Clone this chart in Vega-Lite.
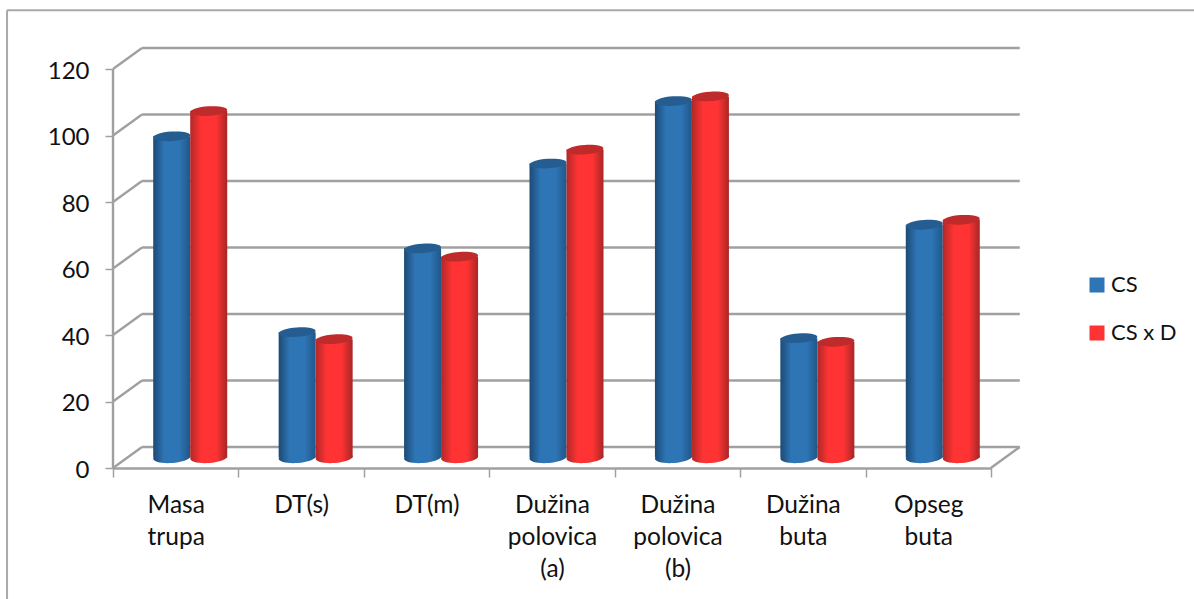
{
"$schema":"https://vega.github.io/schema/vega-lite/v6.json",
"width":908,"height":422,
"autosize":{"type":"none"},
"padding":{"left":113,"top":46,"right":173,"bottom":131},
"background":"white",
"datasets":{
"bars":[
{"kategorija":"Masa trupa","serija":"CS","vrijednost":96.6},
{"kategorija":"Masa trupa","serija":"CS x D","vrijednost":104.2},
{"kategorija":"DT(s)","serija":"CS","vrijednost":37.7},
{"kategorija":"DT(s)","serija":"CS x D","vrijednost":35.6},
{"kategorija":"DT(m)","serija":"CS","vrijednost":62.9},
{"kategorija":"DT(m)","serija":"CS x D","vrijednost":60.4},
{"kategorija":"Dužina polovica (a)","serija":"CS","vrijednost":88.4},
{"kategorija":"Dužina polovica (a)","serija":"CS x D","vrijednost":92.6},
{"kategorija":"Dužina polovica (b)","serija":"CS","vrijednost":107.2},
{"kategorija":"Dužina polovica (b)","serija":"CS x D","vrijednost":108.6},
{"kategorija":"Dužina buta","serija":"CS","vrijednost":35.9},
{"kategorija":"Dužina buta","serija":"CS x D","vrijednost":34.8},
{"kategorija":"Opseg buta","serija":"CS","vrijednost":70},
{"kategorija":"Opseg buta","serija":"CS x D","vrijednost":71.5}
],
"walls":[
{"a":0,"b":0,"a2":0,"b2":120},
{"a":0,"b":0,"a2":0.2313,"b2":6.316},
{"a":0,"b":20,"a2":0.2313,"b2":26.316},
{"a":0,"b":40,"a2":0.2313,"b2":46.316},
{"a":0,"b":60,"a2":0.2313,"b2":66.316},
{"a":0,"b":80,"a2":0.2313,"b2":86.316},
{"a":0,"b":100,"a2":0.2313,"b2":106.316},
{"a":0,"b":120,"a2":0.2313,"b2":126.316},
{"a":7,"b":0,"a2":7.2313,"b2":6.316},
{"a":0.2313,"b":6.316,"a2":7.2313,"b2":6.316},
{"a":0.2313,"b":26.316,"a2":7.2313,"b2":26.316},
{"a":0.2313,"b":46.316,"a2":7.2313,"b2":46.316},
{"a":0.2313,"b":66.316,"a2":7.2313,"b2":66.316},
{"a":0.2313,"b":86.316,"a2":7.2313,"b2":86.316},
{"a":0.2313,"b":106.316,"a2":7.2313,"b2":106.316},
{"a":0.2313,"b":126.316,"a2":7.2313,"b2":126.316}
],
"frame":[
{"a":-0.845,"b":137.7,"a2":8.63,"b2":137.7},
{"a":-0.845,"b":137.7,"a2":-0.845,"b2":-39.5}
]
},
"layer":[
{"data":{"name":"frame"},
"mark":{"type":"rule","stroke":"#a9a9a9","strokeWidth":2,"clip":false},
"encoding":{
"x":{"field":"a","type":"quantitative","scale":{"domain":[0,7.241],"nice":false,"zero":false,"clamp":false},"axis":null},
"x2":{"field":"a2"},
"y":{"field":"b","type":"quantitative","title":null,"scale":{"domain":[0,126.92],"nice":false,"zero":false},
"axis":{"values":[0,20,40,60,80,100,120],"labelFont":"Lato","labelFontSize":24,"labelColor":"#111111","labelPadding":16,"labelOffset":2,"tickSize":8,"tickColor":"#a0a0a0","tickWidth":1.5,"domain":false,"grid":false}},
"y2":{"field":"b2"}}},
{"data":{"name":"walls"},
"mark":{"type":"rule","stroke":"#a0a0a0","strokeWidth":2.4},
"encoding":{
"x":{"field":"a","type":"quantitative","scale":{"domain":[0,7.241],"nice":false,"zero":false},"axis":null},
"x2":{"field":"a2"},
"y":{"field":"b","type":"quantitative","scale":{"domain":[0,126.92],"nice":false,"zero":false}},
"y2":{"field":"b2"}}},
{"data":{"name":"bars"},
"mark":{"type":"rule","opacity":0},
"encoding":{
"x":{"field":"kategorija","type":"nominal","sort":null,"title":null,
"scale":{"range":[0,878],"paddingInner":0,"paddingOuter":0},
"axis":{"labelAngle":0,"labelExpr":"split(datum.label,' ')","labelFont":"Lato","labelFontSize":24.5,"labelLineHeight":32,"labelColor":"#111111","labelLimit":300,"labelPadding":16,"labelOverlap":false,"labelBaseline":"top","tickBand":"extent","tickSize":9,"tickColor":"#a0a0a0","tickWidth":1.5,"domainColor":"#a0a0a0","domainWidth":2.4,"grid":false}},
"y":{"field":"vrijednost","type":"quantitative","scale":{"domain":[0,126.92],"nice":false,"zero":false}}}},
{"data":{"name":"bars"},
"transform":[{"filter":"datum.serija==='CS'"}],
"encoding":{
"x":{"field":"kategorija","type":"nominal","sort":null,"scale":{"range":[14.5,892.5],"paddingInner":0.41,"paddingOuter":0.205},"axis":null},
"xOffset":{"field":"serija","type":"nominal","scale":{"domain":["CS","CS x D"],"range":[0,74],"paddingInner":0,"paddingOuter":0}},
"y":{"field":"vrijednost","type":"quantitative","scale":{"domain":[0,126.92],"nice":false,"zero":false}}},
"layer":[
{"mark":{"type":"bar","yOffset":-10.5,"y2Offset":-10.5,"fill":{"gradient":"linear","x1":0,"y1":0,"x2":1,"y2":0,"stops":[{"offset":0,"color":"#1c4a75"},{"offset":0.3,"color":"#2e75b6"},{"offset":0.7,"color":"#2e75b6"},{"offset":1,"color":"#205788"}]}}},
{"mark":{"type":"point","filled":true,"opacity":1,"size":1369,"yOffset":-10.5,"shape":"M-0.998,0.07A1,0.297,-4,1,1,0.998,-0.07A1,0.297,-4,1,1,-0.998,0.07Z","fill":{"gradient":"linear","x1":0,"y1":0,"x2":1,"y2":0,"stops":[{"offset":0,"color":"#1c4a75"},{"offset":0.3,"color":"#2e75b6"},{"offset":0.7,"color":"#2e75b6"},{"offset":1,"color":"#205788"}]}},
"encoding":{"y":{"datum":0,"type":"quantitative","scale":{"domain":[0,126.92],"nice":false,"zero":false}}}},
{"mark":{"type":"point","filled":true,"opacity":1,"size":1369,"yOffset":-10.5,"shape":"M-0.998,0.07A1,0.255,-4,1,1,0.998,-0.07A1,0.255,-4,1,1,-0.998,0.07Z","fill":"#265d91"}}
]},
{"data":{"name":"bars"},
"transform":[{"filter":"datum.serija==='CS x D'"}],
"encoding":{
"x":{"field":"kategorija","type":"nominal","sort":null,"scale":{"range":[14.5,892.5],"paddingInner":0.41,"paddingOuter":0.205},"axis":null},
"xOffset":{"field":"serija","type":"nominal","scale":{"domain":["CS","CS x D"],"range":[0,74],"paddingInner":0,"paddingOuter":0}},
"y":{"field":"vrijednost","type":"quantitative","scale":{"domain":[0,126.92],"nice":false,"zero":false}}},
"layer":[
{"mark":{"type":"bar","yOffset":-10.5,"y2Offset":-10.5,"fill":{"gradient":"linear","x1":0,"y1":0,"x2":1,"y2":0,"stops":[{"offset":0,"color":"#b02828"},{"offset":0.3,"color":"#ff3333"},{"offset":0.7,"color":"#ff3333"},{"offset":1,"color":"#a82626"}]}}},
{"mark":{"type":"point","filled":true,"opacity":1,"size":1369,"yOffset":-10.5,"shape":"M-0.998,0.07A1,0.297,-4,1,1,0.998,-0.07A1,0.297,-4,1,1,-0.998,0.07Z","fill":{"gradient":"linear","x1":0,"y1":0,"x2":1,"y2":0,"stops":[{"offset":0,"color":"#b02828"},{"offset":0.3,"color":"#ff3333"},{"offset":0.7,"color":"#ff3333"},{"offset":1,"color":"#a82626"}]}},
"encoding":{"y":{"datum":0,"type":"quantitative","scale":{"domain":[0,126.92],"nice":false,"zero":false}}}},
{"mark":{"type":"point","filled":true,"opacity":1,"size":1369,"yOffset":-10.5,"shape":"M-0.998,0.07A1,0.255,-4,1,1,0.998,-0.07A1,0.255,-4,1,1,-0.998,0.07Z","fill":"#bf2a2a"}}
]},
{"data":{"name":"bars"},
"mark":{"type":"square","size":0,"filled":true},
"encoding":{
"x":{"field":"kategorija","type":"nominal","sort":null,"axis":null},
"color":{"field":"serija","type":"nominal","title":null,
"scale":{"domain":["CS","CS x D"],"range":["#2e75b6","#ff3333"]},
"legend":{"orient":"none","legendX":973,"legendY":228,"symbolType":"square","symbolSize":225,"symbolStrokeWidth":0,"symbolOpacity":1,"labelFont":"Lato","labelFontSize":22,"labelColor":"#111111","rowPadding":26,"labelOffset":3,"title":null}}}}
],
"resolve":{"scale":{"x":"independent","xOffset":"independent"},"axis":{"x":"independent"}},
"config":{"view":{"stroke":null}}
}
